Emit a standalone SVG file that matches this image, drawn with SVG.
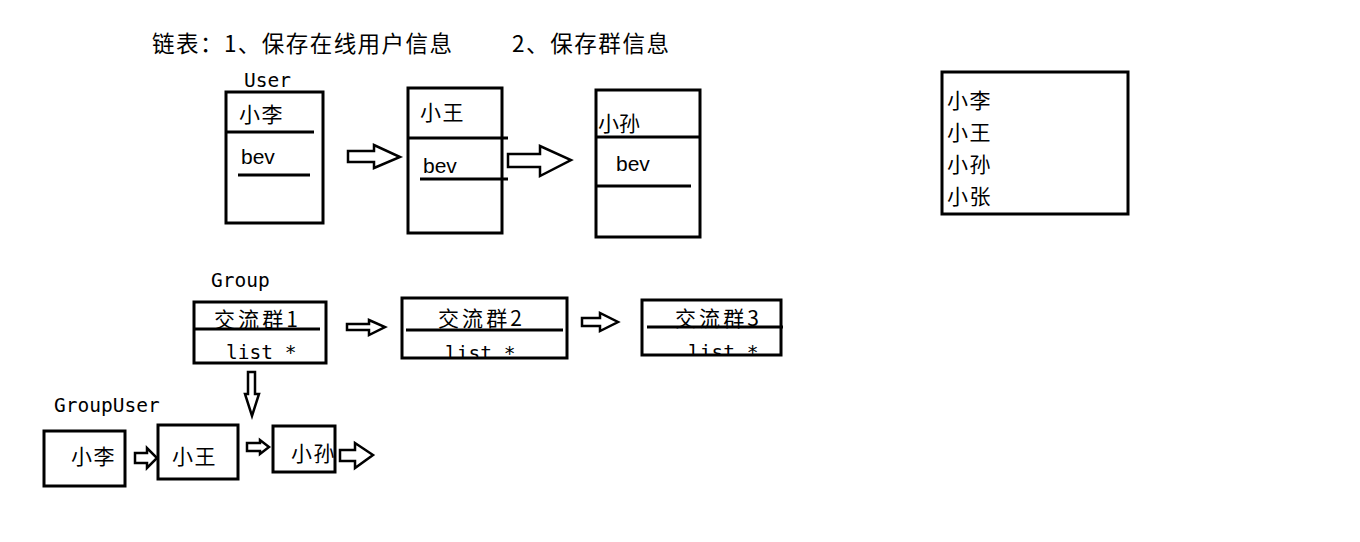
<svg xmlns="http://www.w3.org/2000/svg" width="1360" height="542" viewBox="0 0 1360 542">
  <style>
    .box { fill: none; stroke: #000; stroke-width: 3; }
    .sep { stroke: #000; stroke-width: 3; }
    .arrow { fill: #fff; stroke: #000; stroke-width: 2.5; stroke-linejoin: miter; }
    .cn { font-family: "Noto Sans CJK SC", "Noto Sans", sans-serif; font-size: 21px; fill: #000; letter-spacing: 1.5px; }
    .head { font-family: "Noto Sans CJK SC", "Noto Sans", sans-serif; font-size: 22.5px; fill: #000; }
    .mono { font-family: "DejaVu Sans Mono", "Liberation Mono", monospace; font-size: 19.5px; fill: #000; }
    .sans { font-family: "Liberation Sans", Arial, sans-serif; font-size: 21px; fill: #000; }
  </style>
  <defs>
    <clipPath id="clip-g2"><rect x="402" y="298" width="165" height="60"/></clipPath>
    <clipPath id="clip-g3"><rect x="642" y="300" width="139" height="55"/></clipPath>
  </defs>

  <rect width="1360" height="542" fill="#fff"/>

  <!-- heading -->
  <g id="title">
    <text class="head" x="152" y="52" textLength="300" lengthAdjust="spacing">链表：1、保存在线用户信息</text>
    <text class="head" x="512" y="52" textLength="157" lengthAdjust="spacing">2、保存群信息</text>
  </g>

  <!-- User list -->
  <g id="label-user">
    <text class="mono" x="244" y="87">User</text>
  </g>
  <g id="user-1">
    <rect class="box" x="226" y="92" width="97" height="131"/>
    <line class="sep" x1="227" y1="132" x2="314" y2="132"/>
    <text class="cn" x="239" y="122">小李</text>
    <text class="sans" x="241" y="164">bev</text>
    <line class="sep" x1="238" y1="175" x2="310" y2="175"/>
  </g>
  <g id="user-2">
    <rect class="box" x="408" y="88" width="94" height="145"/>
    <line class="sep" x1="408" y1="138" x2="508" y2="138"/>
    <text class="cn" x="420" y="120">小王</text>
    <text class="sans" x="423" y="173">bev</text>
    <line class="sep" x1="420" y1="179" x2="508" y2="179"/>
  </g>
  <g id="user-3">
    <rect class="box" x="596" y="90" width="104" height="147"/>
    <line class="sep" x1="596" y1="137" x2="700" y2="137"/>
    <text class="cn" x="598" y="131" style="letter-spacing:0">小孙</text>
    <text class="sans" x="616" y="171">bev</text>
    <line class="sep" x1="596" y1="186" x2="691" y2="186"/>
  </g>

  <!-- name list -->
  <g id="name-list">
    <rect class="box" x="942" y="72" width="186" height="142"/>
    <text class="cn" x="947" y="108">小李</text>
    <text class="cn" x="947" y="140">小王</text>
    <text class="cn" x="947" y="172">小孙</text>
    <text class="cn" x="947" y="204">小张</text>
  </g>

  <!-- Group list -->
  <g id="label-group">
    <text class="mono" x="211" y="287">Group</text>
  </g>
  <g id="group-1">
    <text class="cn" x="214" y="327" textLength="84" lengthAdjust="spacing" style="letter-spacing:0">交流群1</text>
    <text class="mono" x="226" y="359">list *</text>
    <rect class="box" x="194" y="302" width="132" height="61"/>
    <line class="sep" x1="194" y1="329" x2="320" y2="329"/>
  </g>
  <g id="group-2">
    <text class="cn" x="438" y="326" textLength="84" lengthAdjust="spacing" style="letter-spacing:0">交流群2</text>
    <text class="mono" x="445" y="360" clip-path="url(#clip-g2)">list *</text>
    <rect class="box" x="402" y="298" width="165" height="60"/>
    <line class="sep" x1="406" y1="330" x2="563" y2="330"/>
  </g>
  <g id="group-3">
    <text class="cn" x="675" y="326" textLength="84" lengthAdjust="spacing" style="letter-spacing:0">交流群3</text>
    <text class="mono" x="688" y="359" clip-path="url(#clip-g3)">list *</text>
    <rect class="box" x="642" y="300" width="139" height="55"/>
    <line class="sep" x1="647" y1="327" x2="783" y2="327"/>
  </g>

  <!-- GroupUser list -->
  <g id="label-groupuser">
    <text class="mono" x="54" y="412">GroupUser</text>
  </g>
  <g id="gu-1">
    <rect class="box" x="44" y="431" width="81" height="55"/>
    <text class="cn" x="71" y="464">小李</text>
  </g>
  <g id="gu-2">
    <rect class="box" x="158" y="425" width="80" height="54"/>
    <text class="cn" x="172" y="464">小王</text>
  </g>
  <g id="gu-3">
    <text class="cn" x="291" y="461">小孙</text>
    <rect class="box" x="273" y="426" width="62" height="46"/>
  </g>

  <!-- connectors: hollow block arrows -->
  <g id="connectors">
    <polygon class="arrow" points="348,151 374,151 374,145 400,157 374,168 374,162 348,162"/>
    <polygon class="arrow" points="508,154 540,154 540,146 571,160 540,176 540,167 508,167"/>
    <polygon class="arrow" points="347,324 369,324 369,320 385,327 369,335 369,330 347,330"/>
    <polygon class="arrow" points="582,318 600,318 600,313 618,322 600,331 600,326 582,326"/>
    <polygon class="arrow" points="248,372 255,372 255,394 259,394 252,416 245,394 248,394"/>
    <polygon class="arrow" points="135,453 147,453 147,448 157,458 147,468 147,463 135,463"/>
    <polygon class="arrow" points="247,443 260,443 260,440 269,447 260,454 260,451 247,451"/>
    <polygon class="arrow" points="340,450 355,450 355,443 373,455 355,468 355,461 340,461"/>
  </g>
</svg>
